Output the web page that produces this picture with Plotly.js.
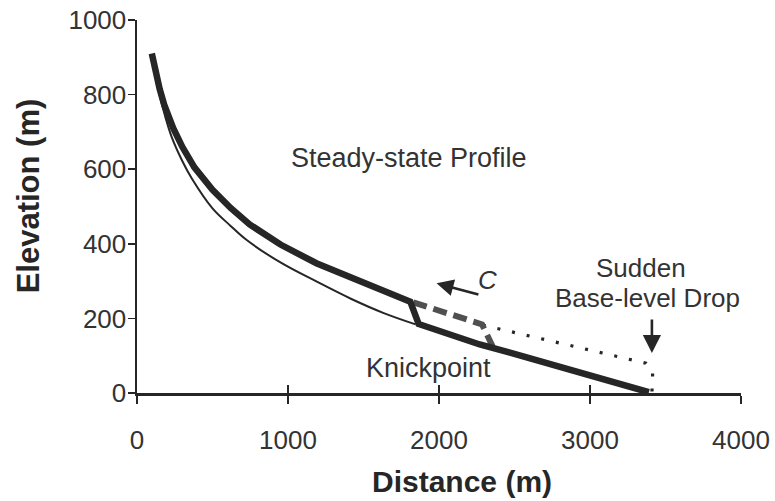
<!DOCTYPE html>
<html>
<head>
<meta charset="utf-8">
<script src="https://cdn.plot.ly/plotly-3.0.1.min.js"></script>
<style>
  html, body { margin: 0; padding: 0; background: #ffffff; }
  #chart { width: 775px; height: 501px; }
</style>
</head>
<body>
<div id="chart"></div>
<script>
// Current profile: upper reach, knickpoint step, then the adjusted lower reach
const profileDist = [98, 110, 125, 150, 180, 210, 240, 300, 380, 500, 620, 746, 950, 1188, 1420, 1630, 1810, 1865, 2270, 2470, 2930, 3390];
const profileElev = [910, 885, 855, 815, 773, 740, 710, 660, 605, 545, 496, 452, 398, 348, 308, 276, 245, 185, 130, 108, 55, 2];

// Steady-state profile (thin line) down to the knickpoint
const steadyDist = [98, 120, 150, 190, 230, 300, 363, 500, 620, 720, 950, 1188, 1420, 1630, 1845];
const steadyElev = [906, 856, 798, 737, 686, 622, 575, 495, 448, 412, 350, 299, 252, 215, 184];

// Earlier knickpoint position (dashed)
const earlierDist = [1830, 2285, 2355];
const earlierElev = [243, 184, 125];

// Former profile before the base-level drop (dotted)
const formerDist = [2290, 3370, 3415, 3410];
const formerElev = [182, 80, 55, 0];

const xTicks = [0, 1000, 2000, 3000, 4000];
const yTicks = [0, 200, 400, 600, 800, 1000];

const ink = '#262626';
const textInk = '#333333';
const fontFamily = 'Liberation Sans, Arial, sans-serif';

const traces = [
  {
    x: steadyDist, y: steadyElev, mode: 'lines', type: 'scatter',
    line: { color: ink, width: 2, shape: 'spline', smoothing: 1 },
    hoverinfo: 'skip'
  },
  {
    x: formerDist, y: formerElev, mode: 'lines', type: 'scatter',
    line: { color: ink, width: 3.2, dash: '3px,12px' },
    hoverinfo: 'skip'
  },
  {
    x: earlierDist, y: earlierElev, mode: 'lines', type: 'scatter',
    line: { color: '#505050', width: 6, dash: '14px,7px' },
    hoverinfo: 'skip'
  },
  {
    x: profileDist, y: profileElev, mode: 'lines', type: 'scatter',
    line: { color: ink, width: 6.5, shape: 'linear' },
    hoverinfo: 'skip'
  },
  {
    // carries the inner halves of the crossing ticks
    x: [0], y: [0], xaxis: 'x2', yaxis: 'y2', mode: 'markers', type: 'scatter',
    marker: { size: 0, opacity: 0 }, hoverinfo: 'skip'
  }
];

const axisCommon = {
  showgrid: false, zeroline: false, showline: true,
  linecolor: ink, linewidth: 2.5,
  tickcolor: ink, tickwidth: 1.6,
  tickfont: { family: fontFamily, size: 26, color: textInk },
  automargin: false
};

const layout = {
  width: 775, height: 501,
  margin: { l: 137, r: 34, t: 20, b: 108 },
  paper_bgcolor: '#ffffff', plot_bgcolor: '#ffffff',
  showlegend: false,
  font: { family: fontFamily, color: textInk },
  xaxis: Object.assign({}, axisCommon, {
    range: [0, 4000], tickvals: xTicks, ticktext: xTicks.map(String),
    ticks: 'outside', ticklen: 8, ticklabelstandoff: 14
  }),
  xaxis2: {
    overlaying: 'x', anchor: 'y2', side: 'bottom',
    range: [0, 4000], tickvals: xTicks, showticklabels: false,
    ticks: 'inside', ticklen: 8, tickcolor: ink, tickwidth: 1.6,
    showgrid: false, zeroline: false, showline: false, automargin: false
  },
  yaxis: Object.assign({}, axisCommon, {
    range: [0, 1000], tickvals: yTicks, ticktext: yTicks.map(String),
    ticks: 'outside', ticklen: 7, ticklabelstandoff: -4
  }),
  yaxis2: {
    overlaying: 'y', anchor: 'x2', side: 'left',
    range: [0, 1000], tickvals: [1000], showticklabels: false,
    ticks: 'inside', ticklen: 7, tickcolor: ink, tickwidth: 1.6,
    showgrid: false, zeroline: false, showline: false, automargin: false
  },
  annotations: [
    // axis titles
    { x: 2150, y: -0.238, xref: 'x', yref: 'paper', yanchor: 'middle',
      text: '<b>Distance (m)</b>', showarrow: false,
      font: { size: 30, color: ink } },
    { x: -0.18, y: 528, xref: 'paper', yref: 'y', xanchor: 'center', textangle: -90,
      text: '<b>Elevation (m)</b>', showarrow: false,
      font: { size: 31, color: ink } },
    // text labels
    { x: 1798, y: 630, xref: 'x', yref: 'y', text: 'Steady-state Profile', showarrow: false,
      font: { size: 27, color: textInk } },
    { x: 1930, y: 68, xref: 'x', yref: 'y', text: 'Knickpoint', showarrow: false,
      font: { size: 27, color: textInk } },
    { x: 2321, y: 303, xref: 'x', yref: 'y', text: '<i>C</i>', showarrow: false,
      font: { size: 26, color: textInk } },
    { x: 3341, y: 336, xref: 'x', yref: 'y', text: 'Sudden', showarrow: false,
      font: { size: 26, color: textInk } },
    { x: 3384, y: 255, xref: 'x', yref: 'y', text: 'Base-level Drop', showarrow: false,
      font: { size: 26, color: textInk } },
    // knickpoint migration arrow
    { x: 1984, y: 294, xref: 'x', yref: 'y', ax: 2271, ay: 263, axref: 'x', ayref: 'y',
      text: '', showarrow: true, arrowhead: 2, arrowsize: 1.3, arrowwidth: 2.6, arrowcolor: ink },
    // base-level drop arrow
    { x: 3410, y: 107, xref: 'x', yref: 'y', ax: 3410, ay: 201, axref: 'x', ayref: 'y',
      text: '', showarrow: true, arrowhead: 2, arrowsize: 1.4, arrowwidth: 2.6, arrowcolor: ink }
  ]
};

Plotly.newPlot('chart', traces, layout, { staticPlot: true, displayModeBar: false });
</script>
</body>
</html>
